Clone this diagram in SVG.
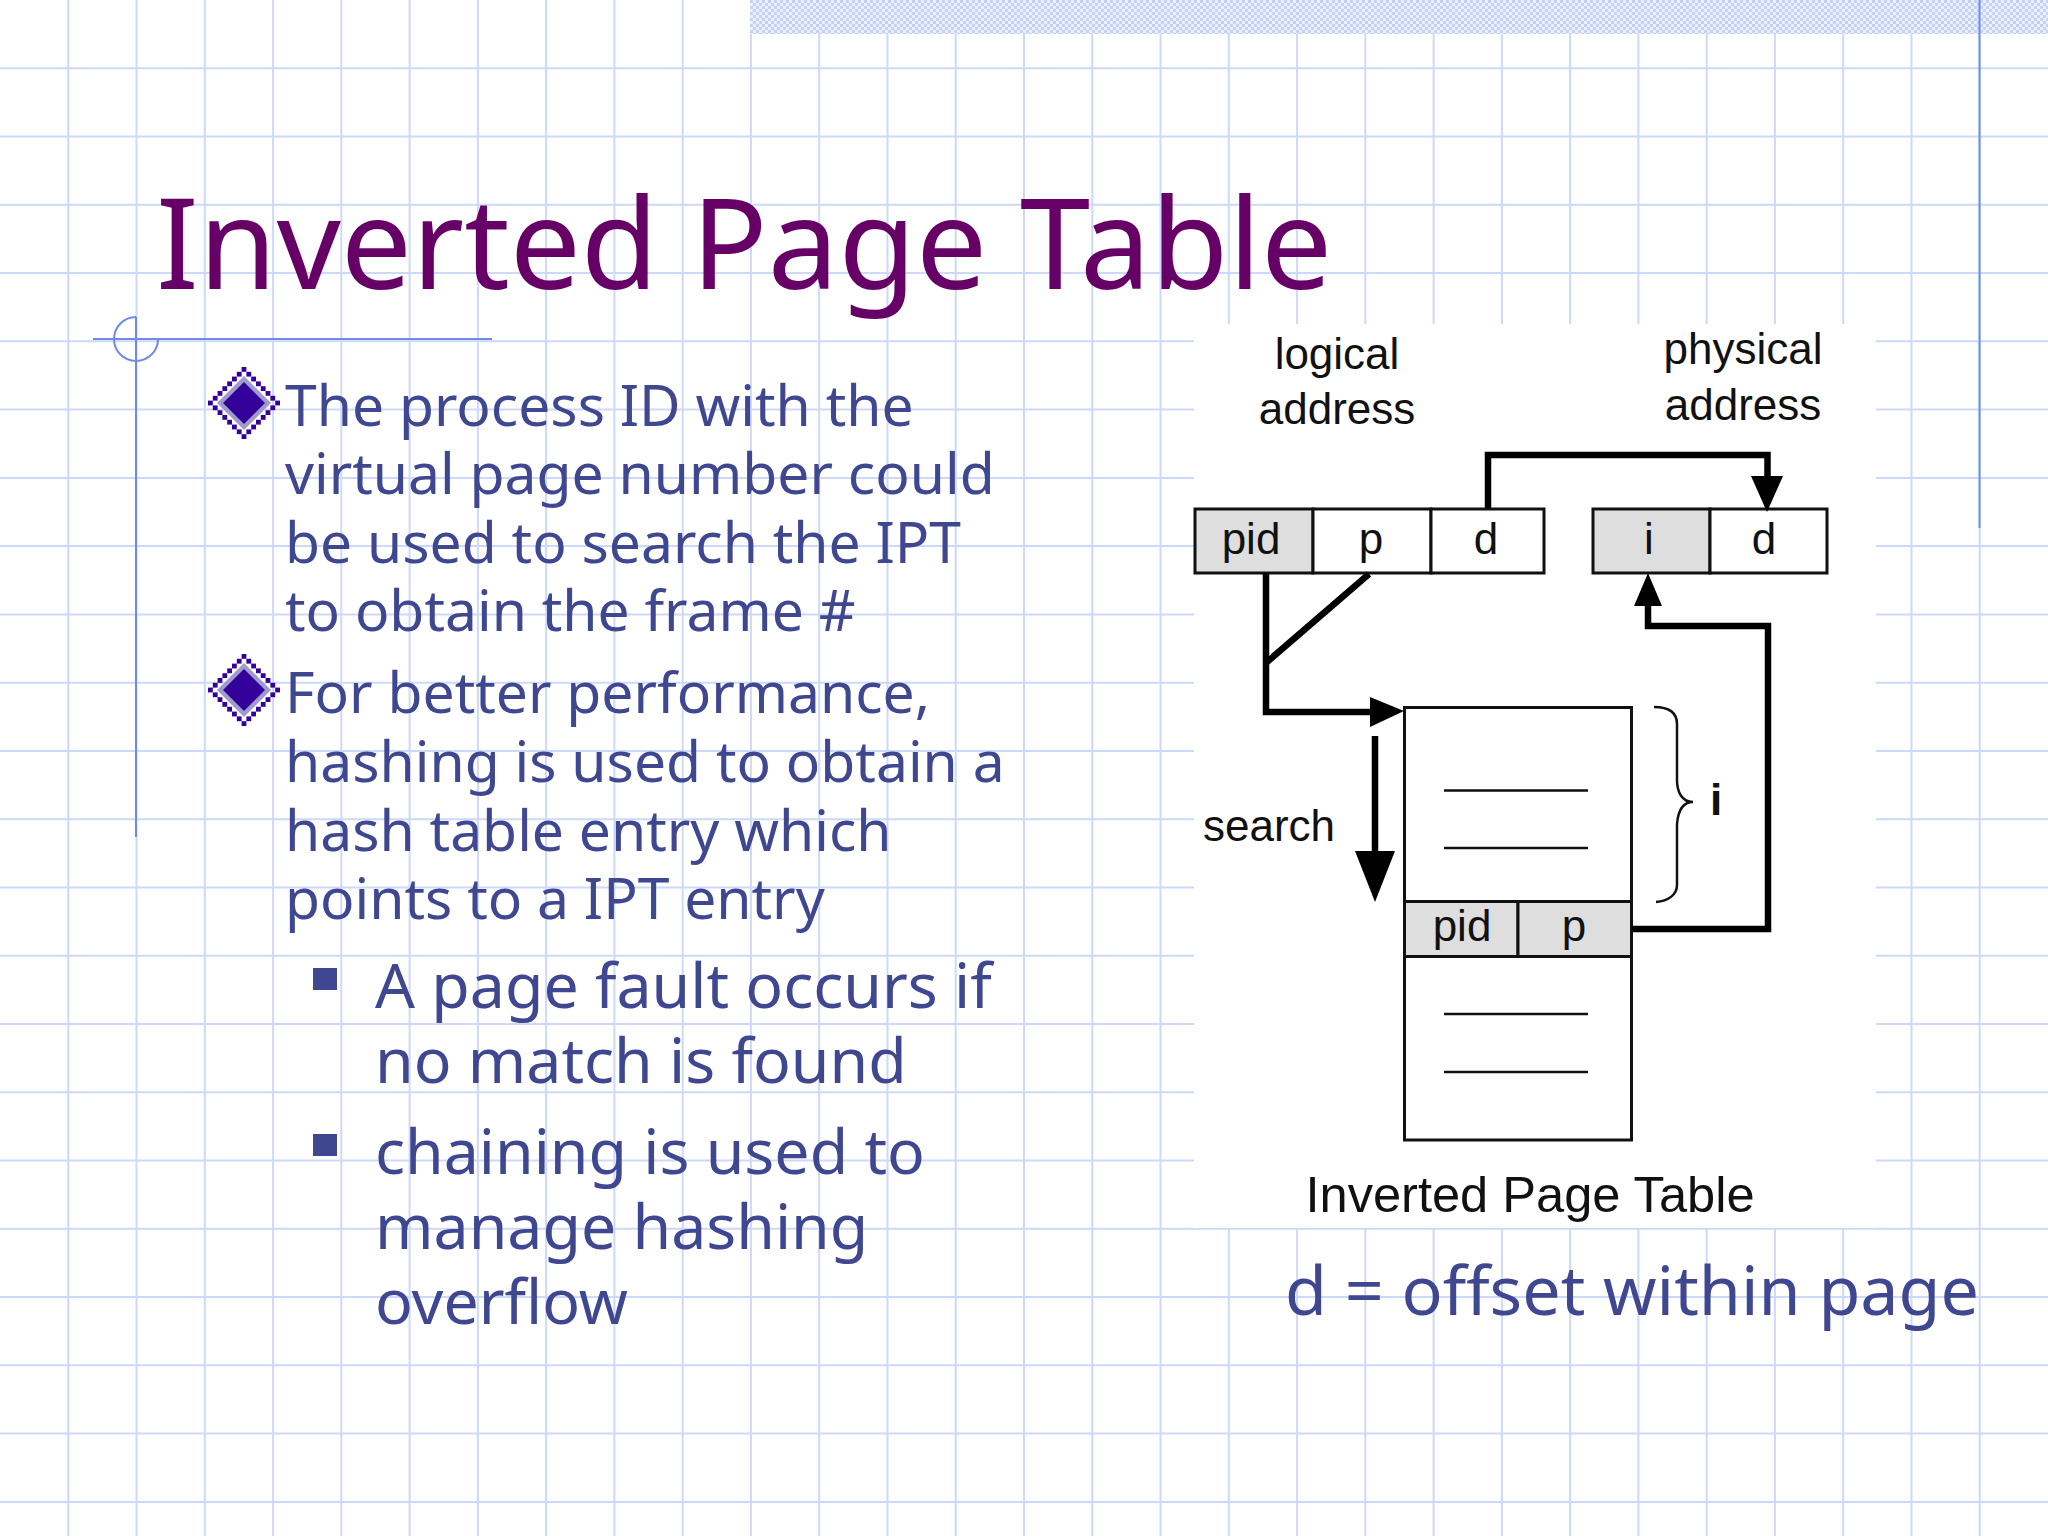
<svg xmlns="http://www.w3.org/2000/svg" width="2048" height="1536" viewBox="0 0 2048 1536">
<style>
.grid line{stroke:#cdd9f9;stroke-width:2}
.rule{stroke:#6f8be6;stroke-width:2;fill:none}
.ttl{font-family:"Noto Sans",sans-serif;font-size:126.200px;fill:#660066}
.b1{font-family:"Noto Sans",sans-serif;font-size:57px;fill:#3f4791}
.b2{font-family:"Noto Sans",sans-serif;font-size:62.600px;fill:#3f4791}
.b3{font-family:"Noto Sans",sans-serif;font-size:68.200px;fill:#3f4791}
.fig{font-family:"Liberation Sans",Arial,sans-serif;font-size:44px;fill:#111}
.cap{font-size:50.600px}
.cell{stroke:#111;stroke-width:3;fill:#fff}
.grey{fill:#dedede}
.thin{stroke:#111;stroke-width:2.5;fill:none}
.wire{stroke:#000;stroke-width:6.5;fill:none;stroke-linejoin:miter}
.head{fill:#000}
</style>
<defs>
<pattern id="dots" width="6" height="6" patternUnits="userSpaceOnUse">
<rect width="6" height="6" fill="#eaeffd"/>
<rect width="3" height="3" fill="#c6d3f8"/>
<rect x="3" y="3" width="3" height="3" fill="#c6d3f8"/>
</pattern>
<g id="diamond">
<path d="M-27 0L0-27L27 0L0 27Z" fill="#a09bcf"/>
<path d="M-21 0L0-21L21 0L0 21Z" fill="#330099"/>
<g fill="#330099">
<rect x="-2.400" y="-36" width="4.800" height="4.800"/><rect x="-7.200" y="-31.200" width="4.800" height="4.800"/><rect x="2.400" y="-31.200" width="4.800" height="4.800"/>
<rect x="-12" y="-26.400" width="4.800" height="4.800"/><rect x="7.200" y="-26.400" width="4.800" height="4.800"/>
<rect x="-16.800" y="-21.600" width="4.800" height="4.800"/><rect x="12" y="-21.600" width="4.800" height="4.800"/>
<rect x="-21.600" y="-16.800" width="4.800" height="4.800"/><rect x="16.800" y="-16.800" width="4.800" height="4.800"/>
<rect x="-26.400" y="-12" width="4.800" height="4.800"/><rect x="21.600" y="-12" width="4.800" height="4.800"/>
<rect x="-31.200" y="-7.200" width="4.800" height="4.800"/><rect x="26.400" y="-7.200" width="4.800" height="4.800"/>
<rect x="-36" y="-2.400" width="4.800" height="4.800"/><rect x="31.200" y="-2.400" width="4.800" height="4.800"/>
<rect x="-31.200" y="2.400" width="4.800" height="4.800"/><rect x="26.400" y="2.400" width="4.800" height="4.800"/>
<rect x="-26.400" y="7.200" width="4.800" height="4.800"/><rect x="21.600" y="7.200" width="4.800" height="4.800"/>
<rect x="-21.600" y="12" width="4.800" height="4.800"/><rect x="16.800" y="12" width="4.800" height="4.800"/>
<rect x="-16.800" y="16.800" width="4.800" height="4.800"/><rect x="12" y="16.800" width="4.800" height="4.800"/>
<rect x="-12" y="21.600" width="4.800" height="4.800"/><rect x="7.200" y="21.600" width="4.800" height="4.800"/>
<rect x="-7.200" y="26.400" width="4.800" height="4.800"/><rect x="2.400" y="26.400" width="4.800" height="4.800"/>
<rect x="-2.400" y="31.200" width="4.800" height="4.800"/>
</g>
</g>
</defs>
<rect width="2048" height="1536" fill="#fff"/>
<g id="background" class="grid">
<line x1="68.3" y1="0" x2="68.3" y2="1536"/><line x1="136.5" y1="0" x2="136.5" y2="1536"/><line x1="204.8" y1="0" x2="204.8" y2="1536"/><line x1="273.1" y1="0" x2="273.1" y2="1536"/><line x1="341.3" y1="0" x2="341.3" y2="1536"/><line x1="409.6" y1="0" x2="409.6" y2="1536"/><line x1="477.9" y1="0" x2="477.9" y2="1536"/><line x1="546.1" y1="0" x2="546.1" y2="1536"/><line x1="614.4" y1="0" x2="614.4" y2="1536"/><line x1="682.7" y1="0" x2="682.7" y2="1536"/><line x1="750.9" y1="0" x2="750.9" y2="1536"/><line x1="819.2" y1="0" x2="819.2" y2="1536"/><line x1="887.5" y1="0" x2="887.5" y2="1536"/><line x1="955.7" y1="0" x2="955.7" y2="1536"/><line x1="1024" y1="0" x2="1024" y2="1536"/><line x1="1092.3" y1="0" x2="1092.3" y2="1536"/><line x1="1160.5" y1="0" x2="1160.5" y2="1536"/><line x1="1228.8" y1="0" x2="1228.8" y2="1536"/><line x1="1297.1" y1="0" x2="1297.1" y2="1536"/><line x1="1365.3" y1="0" x2="1365.3" y2="1536"/><line x1="1433.6" y1="0" x2="1433.6" y2="1536"/><line x1="1501.9" y1="0" x2="1501.9" y2="1536"/><line x1="1570.1" y1="0" x2="1570.1" y2="1536"/><line x1="1638.4" y1="0" x2="1638.4" y2="1536"/><line x1="1706.7" y1="0" x2="1706.7" y2="1536"/><line x1="1774.9" y1="0" x2="1774.9" y2="1536"/><line x1="1843.2" y1="0" x2="1843.2" y2="1536"/><line x1="1911.5" y1="0" x2="1911.5" y2="1536"/><line x1="1979.7" y1="0" x2="1979.7" y2="1536"/>
<line x1="0" y1="68.3" x2="2048" y2="68.3"/><line x1="0" y1="136.5" x2="2048" y2="136.5"/><line x1="0" y1="204.8" x2="2048" y2="204.8"/><line x1="0" y1="273.1" x2="2048" y2="273.1"/><line x1="0" y1="341.3" x2="2048" y2="341.3"/><line x1="0" y1="409.6" x2="2048" y2="409.6"/><line x1="0" y1="477.9" x2="2048" y2="477.9"/><line x1="0" y1="546.1" x2="2048" y2="546.1"/><line x1="0" y1="614.4" x2="2048" y2="614.4"/><line x1="0" y1="682.7" x2="2048" y2="682.7"/><line x1="0" y1="750.9" x2="2048" y2="750.9"/><line x1="0" y1="819.2" x2="2048" y2="819.2"/><line x1="0" y1="887.5" x2="2048" y2="887.5"/><line x1="0" y1="955.7" x2="2048" y2="955.7"/><line x1="0" y1="1024" x2="2048" y2="1024"/><line x1="0" y1="1092.3" x2="2048" y2="1092.3"/><line x1="0" y1="1160.5" x2="2048" y2="1160.5"/><line x1="0" y1="1228.8" x2="2048" y2="1228.8"/><line x1="0" y1="1297.1" x2="2048" y2="1297.1"/><line x1="0" y1="1365.3" x2="2048" y2="1365.3"/><line x1="0" y1="1433.6" x2="2048" y2="1433.6"/><line x1="0" y1="1501.9" x2="2048" y2="1501.9"/>
</g>
<g id="decor">
<rect x="750" y="0" width="1298" height="34" fill="url(#dots)"/>
<path class="rule" d="M1979.5 0V528"/>
<path class="rule" d="M136 317V837"/>
<path class="rule" d="M93 339H492" stroke-width="2.5"/>
<path class="rule" d="M136 317A22 22 0 1 0 158 339"/>
</g>
<g id="title"><text class="ttl" x="156" y="289">Inverted Page Table</text></g>
<g id="bullets">
<use href="#diamond" x="244" y="403"/>
<use href="#diamond" x="244" y="690"/>
<text class="b1" x="285" y="425.500">The process ID with the</text>
<text class="b1" x="285" y="494">virtual page number could</text>
<text class="b1" x="285" y="562.500">be used to search the IPT</text>
<text class="b1" x="285" y="631">to obtain the frame #</text>
<text class="b1" x="285" y="713">For better performance,</text>
<text class="b1" x="285" y="782">hashing is used to obtain a</text>
<text class="b1" x="285" y="850.500">hash table entry which</text>
<text class="b1" x="285" y="919">points to a IPT entry</text>
<rect x="313" y="968" width="24" height="22" fill="#3f4791"/>
<rect x="313" y="1134" width="24" height="22" fill="#3f4791"/>
<text class="b2" x="375" y="1008">A page fault occurs if</text>
<text class="b2" x="375" y="1083">no match is found</text>
<text class="b2" x="375" y="1173.500">chaining is used to</text>
<text class="b2" x="375" y="1248.500">manage hashing</text>
<text class="b2" x="375" y="1323.500">overflow</text>
<text class="b3" x="1285" y="1314.500">d = offset within page</text>
</g>
<rect id="figure-bg" x="1194" y="324" width="682" height="904" fill="#fff"/>
<g id="logical-address">
<text class="fig" x="1337" y="369" text-anchor="middle">logical</text>
<text class="fig" x="1337" y="424" text-anchor="middle">address</text>
<rect class="cell grey" x="1195" y="509" width="118" height="64"/>
<rect class="cell" x="1313" y="509" width="118" height="64"/>
<rect class="cell" x="1431" y="509" width="113" height="64"/>
<text class="fig" x="1251" y="554" text-anchor="middle">pid</text>
<text class="fig" x="1371" y="554" text-anchor="middle">p</text>
<text class="fig" x="1486" y="554" text-anchor="middle">d</text>
</g>
<g id="physical-address">
<text class="fig" x="1743" y="363.500" text-anchor="middle">physical</text>
<text class="fig" x="1743" y="419.500" text-anchor="middle">address</text>
<rect class="cell grey" x="1593" y="509" width="117" height="64"/>
<rect class="cell" x="1710" y="509" width="117" height="64"/>
<text class="fig" x="1649" y="554" text-anchor="middle">i</text>
<text class="fig" x="1764" y="554" text-anchor="middle">d</text>
</g>
<g id="page-table">
<rect class="cell" x="1404.500" y="707.500" width="227" height="432.500"/>
<rect class="cell grey" x="1404.500" y="901.500" width="113.500" height="55"/>
<rect class="cell grey" x="1518" y="901.500" width="113.500" height="55"/>
<path class="thin" d="M1444 790.500H1588M1444 848H1588M1444 1014H1588M1444 1072H1588"/>
<text class="fig" x="1462" y="941" text-anchor="middle">pid</text>
<text class="fig" x="1574" y="941" text-anchor="middle">p</text>
<text class="fig cap" x="1530" y="1212" text-anchor="middle">Inverted Page Table</text>
</g>
<g id="index-brace">
<path class="thin" d="M1654 707C1668 707 1677 712 1677 724V780C1677 792 1682 802 1693 802C1682 802 1678 812 1677 824V885C1677 895 1668 901 1656 902" stroke-width="2"/>
<text class="fig" x="1716" y="815" text-anchor="middle" font-weight="bold">i</text>
</g>
<g id="search-label">
<text class="fig" x="1269" y="841" text-anchor="middle">search</text>
</g>
<g id="connectors">
<path class="wire" d="M1488 508V455H1767.500V478"/>
<path class="head" d="M1751 476H1783L1767 512Z"/>
<path class="wire" d="M1266 573V712H1372"/>
<path class="head" d="M1370 697L1404 711L1370 727Z"/>
<path class="wire" stroke-width="5" d="M1369 574L1267 662"/>
<path class="wire" d="M1632 929H1768V626H1648V604"/>
<path class="head" d="M1634 606H1662L1648 573Z"/>
<path class="wire" stroke-width="7" d="M1375 736V855"/>
<path class="head" d="M1355 851H1395L1375 902Z"/>
</g>
</svg>
